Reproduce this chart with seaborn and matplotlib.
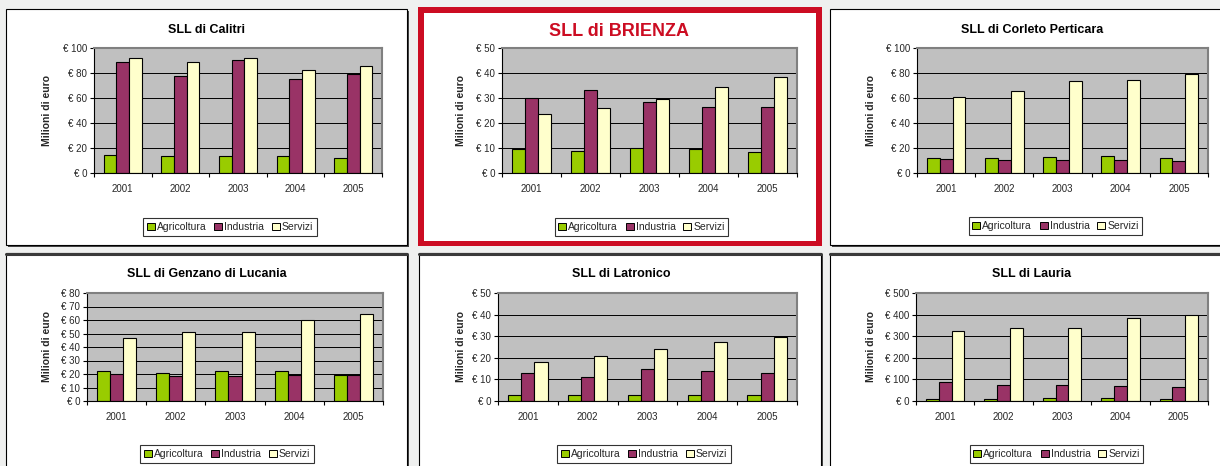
import matplotlib
matplotlib.use('Agg')
import matplotlib.pyplot as plt
import seaborn as sns
import pandas as pd
from matplotlib.patches import Rectangle, Patch
from matplotlib.lines import Line2D

W, H = 1220, 466

anni = ['2001', '2002', '2003', '2004', '2005']
settori = ['Agricoltura', 'Industria', 'Servizi']
colori = ['#99cc00', '#993366', '#ffffcc']

titoli = ['SLL di Calitri', 'SLL di BRIENZA', 'SLL di Corleto Perticara',
          'SLL di Genzano di Lucania', 'SLL di Latronico', 'SLL di Lauria']
ylabel = 'Milioni di euro'

calitri_agr = [14.1, 14.0, 14.0, 13.9, 12.0]
calitri_ind = [88.5, 77.3, 90.1, 75.5, 79.2]
calitri_ser = [91.7, 88.8, 91.7, 82.1, 85.3]

brienza_agr = [9.5, 8.8, 9.9, 9.5, 8.3]
brienza_ind = [29.9, 33.3, 28.3, 26.4, 26.3]
brienza_ser = [23.7, 26.1, 29.6, 34.5, 38.5]

corleto_agr = [12.0, 11.7, 13.1, 13.3, 11.7]
corleto_ind = [11.5, 10.1, 10.1, 10.1, 9.6]
corleto_ser = [60.5, 65.6, 73.9, 74.1, 78.9]

genzano_agr = [21.9, 20.4, 21.9, 22.2, 19.2]
genzano_ind = [19.7, 18.5, 18.5, 19.2, 19.2]
genzano_ser = [47.0, 51.4, 51.0, 60.3, 64.5]

latronico_agr = [2.6, 2.6, 2.6, 2.6, 2.6]
latronico_ind = [12.8, 11.1, 14.8, 13.7, 13.1]
latronico_ser = [17.9, 21.0, 23.9, 27.5, 29.5]

lauria_agr = [10.8, 10.8, 12.4, 12.4, 10.8]
lauria_ind = [89.8, 74.3, 74.3, 71.2, 66.6]
lauria_ser = [322, 339, 339, 382, 398]

ticks_100 = [0, 20, 40, 60, 80, 100]
labels_100 = ['€ 0', '€ 20', '€ 40', '€ 60', '€ 80', '€ 100']
ticks_50 = [0, 10, 20, 30, 40, 50]
labels_50 = ['€ 0', '€ 10', '€ 20', '€ 30', '€ 40', '€ 50']
ticks_80 = [0, 10, 20, 30, 40, 50, 60, 70, 80]
labels_80 = ['€ 0', '€ 10', '€ 20', '€ 30', '€ 40', '€ 50', '€ 60', '€ 70', '€ 80']
ticks_500 = [0, 100, 200, 300, 400, 500]
labels_500 = ['€ 0', '€ 100', '€ 200', '€ 300', '€ 400', '€ 500']

dati = [
    (calitri_agr, calitri_ind, calitri_ser, ticks_100, labels_100),
    (brienza_agr, brienza_ind, brienza_ser, ticks_50, labels_50),
    (corleto_agr, corleto_ind, corleto_ser, ticks_100, labels_100),
    (genzano_agr, genzano_ind, genzano_ser, ticks_80, labels_80),
    (latronico_agr, latronico_ind, latronico_ser, ticks_50, labels_50),
    (lauria_agr, lauria_ind, lauria_ser, ticks_500, labels_500),
]

# layout in pixels (x0, y0, x1, y1), y measured from top
pannelli = [(6, 9, 407, 245), (418, 7, 822, 246), (830, 9, 1226, 245),
            (6, 253, 407, 472), (419, 253, 821, 472), (830, 253, 1226, 472)]
assi = [(94, 48, 382, 173), (502, 48, 797, 173), (917, 48, 1208, 173),
        (87, 293, 383, 401), (498, 293, 797, 401), (916, 293, 1208, 401)]
titolo_pos = [(207, 30), (619, 31), (1032, 30), (207, 274), (621, 274), (1032, 274)]
ylab_pos = [(47.5, 110.5), (461, 110.5), (871, 110.5), (47, 347), (461, 347), (871.5, 347)]
leg_pos = [(230, 227), (641.5, 227), (1055.5, 226), (227, 454), (644, 454), (1056.5, 454)]

sns.set_theme(style='white')
plt.rcParams['font.family'] = ['Liberation Sans', 'DejaVu Sans']

fig = plt.figure(figsize=(W / 100, H / 100), dpi=100)
fig.patch.set_facecolor('#eff0ef')


def frect(x0, y0, x1, y1):
    return [x0 / W, 1 - y1 / H, (x1 - x0) / W, (y1 - y0) / H]


for i, (x0, y0, x1, y1) in enumerate(pannelli):
    if i == 1:
        fig.add_artist(Rectangle((x0 / W, 1 - y1 / H), (x1 - x0) / W, (y1 - y0) / H,
                                 transform=fig.transFigure, facecolor='#cc0c22',
                                 edgecolor='none', zorder=-3))
        t = 6
        fig.add_artist(Rectangle(((x0 + t) / W, 1 - (y1 - 5) / H), (x1 - x0 - 2 * t) / W,
                                 (y1 - y0 - t - 5) / H, transform=fig.transFigure,
                                 facecolor='white', edgecolor='none', zorder=-2))
    else:
        fig.add_artist(Rectangle(((x0 + 2) / W, 1 - (y1 + 2) / H), (x1 - x0) / W, (y1 - y0) / H,
                                 transform=fig.transFigure, facecolor='#444444',
                                 edgecolor='none', zorder=-3))
        fig.add_artist(Rectangle((x0 / W, 1 - y1 / H), (x1 - x0) / W, (y1 - y0) / H,
                                 transform=fig.transFigure, facecolor='white',
                                 edgecolor='black', linewidth=0.8, zorder=-2))
        if i >= 3:
            fig.add_artist(Line2D([x0 / W, x1 / W], [1 - (y0 + 1) / H] * 2,
                                  transform=fig.transFigure, color='#3a3a3a',
                                  linewidth=2.2, zorder=-1))

for i, (agr, ind, ser, ticks, labels) in enumerate(dati):
    df = pd.DataFrame({
        'Anno': anni * 3,
        'Settore': [settori[0]] * 5 + [settori[1]] * 5 + [settori[2]] * 5,
        'Valore': list(agr) + list(ind) + list(ser),
    })
    ax = fig.add_axes(frect(*assi[i]))
    sns.barplot(data=df, x='Anno', y='Valore', hue='Settore', order=anni,
                hue_order=settori, palette=colori, saturation=1, width=0.66,
                edgecolor='black', linewidth=0.8, legend=False, ax=ax, zorder=3)
    ax.set_facecolor('#c0c0c0')
    ax.set_xlim(-0.5, 4.5)
    ax.set_ylim(ticks[0], ticks[-1])
    ax.set_yticks(ticks)
    ax.set_yticklabels(labels)
    ax.set_xlabel('')
    ax.set_ylabel(ylabel, fontsize=7.5, fontweight='bold', va='center')
    lx, ly = ylab_pos[i]
    ax.yaxis.set_label_coords(lx / W, 1 - ly / H, transform=fig.transFigure)
    ax.yaxis.grid(True, color='black', linewidth=0.7)
    ax.xaxis.grid(False)
    ax.set_axisbelow(True)
    ax.tick_params(axis='y', direction='out', length=3, width=0.8, color='black',
                   labelsize=7, pad=2, left=True)
    ax.tick_params(axis='x', which='major', length=0, labelsize=7, pad=8)
    ax.set_xticks([-0.5, 0.5, 1.5, 2.5, 3.5, 4.5], minor=True)
    ax.tick_params(axis='x', which='minor', direction='out', length=3, width=0.8,
                   color='black', bottom=True)
    for s in ['left', 'bottom']:
        ax.spines[s].set_color('black')
        ax.spines[s].set_linewidth(0.8)
    for s in ['top', 'right']:
        ax.spines[s].set_color('#808080')
        ax.spines[s].set_linewidth(1.5)
    for s in ax.spines.values():
        s.set_zorder(4)

    tx, ty = titolo_pos[i]
    if i == 1:
        fig.text(tx / W, 1 - ty / H, titoli[i], ha='center', va='center',
                 fontsize=13, fontweight='bold', color='#cc0c22')
    else:
        fig.text(tx / W, 1 - ty / H, titoli[i], ha='center', va='center',
                 fontsize=9, fontweight='bold', color='black')

    handles = [Patch(facecolor=c, edgecolor='black', linewidth=0.7) for c in colori]
    cx, cy = leg_pos[i]
    leg = ax.legend(handles, settori, loc='center', bbox_to_anchor=(cx / W, 1 - cy / H),
                    bbox_transform=fig.transFigure, ncol=3, frameon=True,
                    fancybox=False, edgecolor='black', fontsize=7.5,
                    handlelength=0.75, handleheight=0.75, handletextpad=0.2,
                    columnspacing=0.75, borderpad=0.35, borderaxespad=0)
    leg.get_frame().set_linewidth(0.8)
    leg.get_frame().set_facecolor('white')

fig.savefig('out.png', dpi=100, facecolor=fig.get_facecolor())
